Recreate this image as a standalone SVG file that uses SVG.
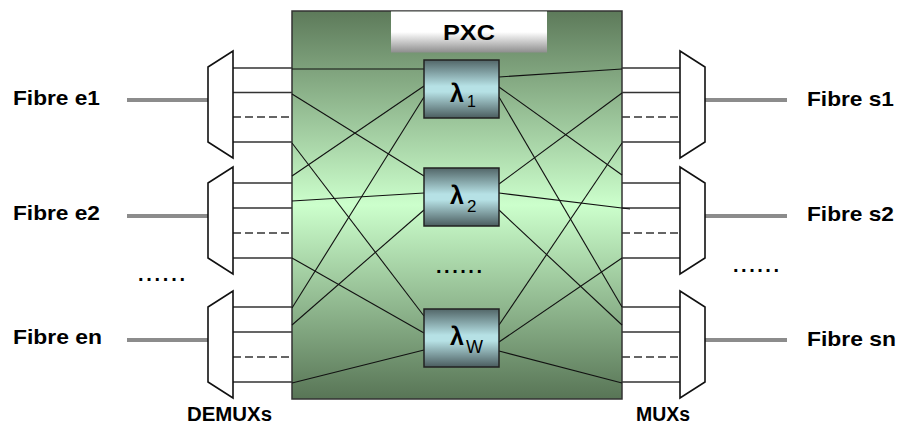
<svg xmlns="http://www.w3.org/2000/svg" width="902" height="427" viewBox="0 0 902 427">
<style>
  .lbl { font-family: "Liberation Sans", Arial, sans-serif; font-weight: bold; fill: #000; }
  .mux { fill: #fff; stroke: #111; stroke-width: 1.6; }
  .port { stroke: #333; stroke-width: 1.7; fill: none; }
  .dash { stroke: #333; stroke-width: 1.7; stroke-dasharray: 8 4; fill: none; }
  .fibre { stroke: #8c8c8c; stroke-width: 4; fill: none; }
  .link { stroke: #111; stroke-width: 1.1; fill: none; }
  .lam { fill: url(#gLam); stroke: #222; stroke-width: 1.5; }
</style>
<defs>
  <linearGradient id="gPxc" x1="0" y1="0" x2="0" y2="1">
    <stop offset="0" stop-color="#5d7a5a"/>
    <stop offset="0.5" stop-color="#ccffcc"/>
    <stop offset="1" stop-color="#587556"/>
  </linearGradient>
  <linearGradient id="gLam" x1="0" y1="0" x2="0" y2="1">
    <stop offset="0" stop-color="#526668"/>
    <stop offset="0.45" stop-color="#b6e1e5"/>
    <stop offset="0.55" stop-color="#b6e1e5"/>
    <stop offset="1" stop-color="#4b5d5f"/>
  </linearGradient>
  <linearGradient id="gHead" x1="0" y1="0" x2="0" y2="1">
    <stop offset="0" stop-color="#ffffff"/>
    <stop offset="0.5" stop-color="#ffffff"/>
    <stop offset="1" stop-color="#8e8e8e"/>
  </linearGradient>
</defs>
<rect width="902" height="427" fill="#fff"/>

<g id="pxc">
  <rect x="292" y="11" width="330" height="388" fill="url(#gPxc)" stroke="#333" stroke-width="1.5"/>
  <rect x="391" y="11.5" width="156" height="41" fill="url(#gHead)"/>
  <text class="lbl" x="443" y="40" font-size="22" textLength="52" lengthAdjust="spacingAndGlyphs">PXC</text>
</g>

<g id="connectors">
  <line class="fibre" x1="127" y1="100" x2="208" y2="100"/>
  <line class="fibre" x1="127" y1="216" x2="208" y2="216"/>
  <line class="fibre" x1="127" y1="340" x2="208" y2="340"/>
  <line class="fibre" x1="705" y1="100" x2="787" y2="100"/>
  <line class="fibre" x1="705" y1="216" x2="787" y2="216"/>
  <line class="fibre" x1="705" y1="340" x2="787" y2="340"/>
  <path class="port" d="M233 68H292M233 92.5H292M233 142H292M233 183H292M233 208H292M233 258H292M233 307H292M233 332H292M233 382H292"/>
  <path class="dash" d="M233 117H292M233 233H292M233 357H292"/>
  <path class="port" d="M622 68H680M622 92.5H680M622 142H680M622 183H680M622 208H680M622 258H680M622 307H680M622 332H680M622 382H680"/>
  <path class="dash" d="M622 117H680M622 233H680M622 357H680"/>
  <line class="link" x1="292" y1="69" x2="424" y2="69"/>
  <line class="link" x1="292" y1="94" x2="424" y2="176"/>
  <line class="link" x1="292" y1="143" x2="424" y2="316"/>
  <line class="link" x1="292" y1="176" x2="424" y2="86"/>
  <line class="link" x1="292" y1="201" x2="424" y2="193"/>
  <line class="link" x1="292" y1="258" x2="424" y2="333"/>
  <line class="link" x1="292" y1="308" x2="424" y2="97"/>
  <line class="link" x1="292" y1="325" x2="424" y2="210"/>
  <line class="link" x1="292" y1="383" x2="424" y2="350"/>
  <line class="link" x1="499" y1="77" x2="622" y2="69"/>
  <line class="link" x1="499" y1="87" x2="622" y2="175"/>
  <line class="link" x1="499" y1="97" x2="622" y2="307"/>
  <line class="link" x1="499" y1="184" x2="622" y2="93"/>
  <line class="link" x1="499" y1="193" x2="630" y2="209"/>
  <line class="link" x1="499" y1="210" x2="622" y2="325"/>
  <line class="link" x1="499" y1="325" x2="622" y2="143"/>
  <line class="link" x1="499" y1="342" x2="622" y2="258"/>
  <line class="link" x1="499" y1="351" x2="622" y2="383"/>
</g>

<g id="lambda1">
  <rect class="lam" x="424" y="60" width="75" height="58"/>
  <text class="lbl" x="450" y="102" font-size="25">λ</text>
  <text x="467" y="107" font-family="Liberation Sans, Arial, sans-serif" font-size="16">1</text>
</g>
<g id="lambda2">
  <rect class="lam" x="424" y="168" width="75" height="58"/>
  <text class="lbl" x="450" y="204" font-size="25">λ</text>
  <text x="467" y="212" font-family="Liberation Sans, Arial, sans-serif" font-size="17">2</text>
</g>
<g id="lambdaW">
  <rect class="lam" x="424" y="309" width="75" height="58"/>
  <text class="lbl" x="450" y="345" font-size="25">λ</text>
  <text x="466" y="353" font-family="Liberation Sans, Arial, sans-serif" font-size="18">W</text>
</g>
<g id="dots-mid">
  <text class="lbl" x="436" y="273" font-size="20" textLength="46">......</text>
</g>

<g id="demux1"><polygon class="mux" points="208,67 233,51 233,158 208,142"/></g>
<g id="demux2"><polygon class="mux" points="208,183 233,167 233,274 208,258"/></g>
<g id="demux3"><polygon class="mux" points="208,307 233,291 233,398 208,382"/></g>
<g id="mux1"><polygon class="mux" points="680,51 705,67 705,142 680,158"/></g>
<g id="mux2"><polygon class="mux" points="680,167 705,183 705,258 680,274"/></g>
<g id="mux3"><polygon class="mux" points="680,291 705,307 705,382 680,398"/></g>

<g id="fibre-e1"><text class="lbl" x="13" y="105" font-size="21" textLength="87" lengthAdjust="spacingAndGlyphs">Fibre e1</text></g>
<g id="fibre-e2"><text class="lbl" x="13" y="220" font-size="21" textLength="87" lengthAdjust="spacingAndGlyphs">Fibre e2</text></g>
<g id="dots-left"><text class="lbl" x="138" y="281" font-size="20" textLength="47">......</text></g>
<g id="fibre-en"><text class="lbl" x="13" y="344" font-size="21" textLength="89" lengthAdjust="spacingAndGlyphs">Fibre en</text></g>
<g id="fibre-s1"><text class="lbl" x="807" y="106" font-size="21" textLength="87" lengthAdjust="spacingAndGlyphs">Fibre s1</text></g>
<g id="fibre-s2"><text class="lbl" x="807" y="221" font-size="21" textLength="87" lengthAdjust="spacingAndGlyphs">Fibre s2</text></g>
<g id="dots-right"><text class="lbl" x="733" y="272" font-size="20" textLength="46">......</text></g>
<g id="fibre-sn"><text class="lbl" x="807" y="346" font-size="21" textLength="89" lengthAdjust="spacingAndGlyphs">Fibre sn</text></g>
<g id="demux-label"><text class="lbl" x="187" y="421" font-size="20" textLength="85" lengthAdjust="spacingAndGlyphs">DEMUXs</text></g>
<g id="mux-label"><text class="lbl" x="636" y="421" font-size="20" textLength="54" lengthAdjust="spacingAndGlyphs">MUXs</text></g>
</svg>
